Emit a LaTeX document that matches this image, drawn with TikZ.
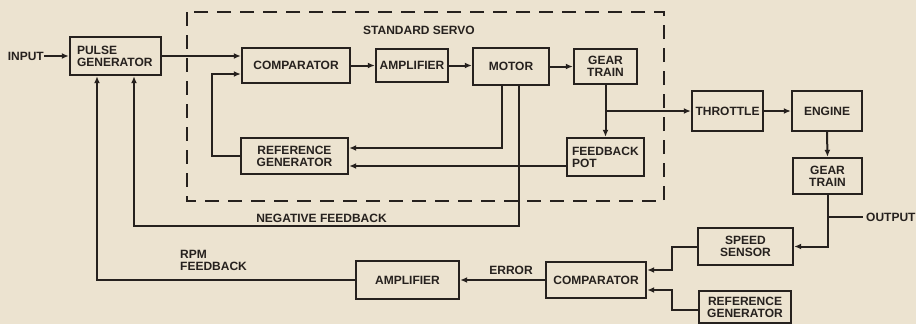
\documentclass[tikz,border=0pt]{standalone}
\usepackage{fontspec}
\setmainfont{Liberation Sans}
\usetikzlibrary{arrows.meta,calc}
\definecolor{bgc}{RGB}{236,227,208}
\definecolor{ink}{RGB}{38,33,30}
\tikzset{
  blk/.style={draw=ink, line width=2.4pt, inner sep=0pt, align=center, text=ink,
    font=\fontsize{12}{12}\selectfont\bfseries},
  lbl/.style={inner sep=0pt, text=ink, font=\fontsize{12}{12}\selectfont\bfseries},
  ln/.style={draw=ink, line width=2pt},
  arr/.style={ln, -{Latex[length=7pt,width=6pt]}},
}
\begin{document}
\begin{tikzpicture}[x=1pt,y=-1pt]
\useasboundingbox (0,0) rectangle (916,324);
\fill[bgc] (0,0) rectangle (916,324);
% dashed servo frame
\draw[draw=ink, line width=2.2pt, dash pattern=on 14pt off 9pt] (187,12) rectangle (664,201);
\node[lbl] (servo) at (419,30) {STANDARD SERVO};
% blocks
\node[blk, minimum width=91pt, minimum height=38pt, text width=77pt, align=left] (pg) at (115.5,56) {PULSE\\GENERATOR};
\node[blk, minimum width=108pt, minimum height=35pt] (comp1) at (296,65.5) {COMPARATOR};
\node[blk, minimum width=72pt, minimum height=33pt] (amp1) at (412,65.5) {AMPLIFIER};
\node[blk, minimum width=76pt, minimum height=37pt] (motor) at (511,66.5) {MOTOR};
\node[blk, minimum width=63pt, minimum height=35pt] (gt1) at (605.5,66.5) {GEAR\\TRAIN};
\node[blk, minimum width=107pt, minimum height=36pt] (rg1) at (294.5,156) {REFERENCE\\GENERATOR};
\node[blk, minimum width=77pt, minimum height=38pt, text width=67pt, align=left] (fp) at (605.5,157) {FEEDBACK\\POT};
\node[blk, minimum width=71pt, minimum height=40pt] (thr) at (727.5,111) {THROTTLE};
\node[blk, minimum width=70pt, minimum height=40pt] (eng) at (827,111) {ENGINE};
\node[blk, minimum width=69pt, minimum height=36pt] (gt2) at (827.5,176) {GEAR\\TRAIN};
\node[blk, minimum width=95pt, minimum height=37pt] (ss) at (745.5,246.5) {SPEED\\SENSOR};
\node[blk, minimum width=100pt, minimum height=36pt] (cmp2) at (596,280) {COMPARATOR};
\node[blk, minimum width=92pt, minimum height=32pt] (rg2) at (745,307) {REFERENCE\\GENERATOR};
\node[blk, minimum width=103pt, minimum height=38pt] (amp2) at (407.5,280) {AMPLIFIER};
% labels
\node[lbl, anchor=east] (inp) at (44,56) {INPUT};
\node[lbl, anchor=west] (outp) at (866,217) {OUTPUT};
\node[lbl] (negfb) at (321.5,218) {NEGATIVE FEEDBACK};
\node[lbl, anchor=north west, align=left] (rpm) at (180,250) {RPM\\FEEDBACK};
\node[lbl] (err) at (511,270) {ERROR};
% connectors
\draw[arr] (inp.east) -- (pg.west);
\draw[arr] (pg.east) -- (comp1.west |- pg.east);
\draw[arr] (rg1.west) -- ++(-28,0) |- ($(comp1.west)+(0,8.5)$);
\draw[arr] (comp1.east) -- (amp1.west);
\draw[arr] (amp1.east) -- (motor.west |- amp1.east);
\draw[arr] (motor.east) -- (gt1.west);
\draw[arr] ($(motor.south)+(-9,0)$) |- ($(rg1.east)+(0,-8)$);
\coordinate (nfc) at (134,226);
\draw[arr] ($(motor.south)+(8,0)$) |- (nfc) -- ($(pg.south)+(18.5,0)$);
\draw[arr] ($(fp.west)+(0,9)$) -- ($(rg1.east)+(0,10)$);
\draw[arr] (gt1.south) -- (fp.north);
\draw[arr] (gt1.south |- thr.west) -- (thr.west);
\draw[arr] (thr.east) -- (eng.west);
\draw[arr] (eng.south) -- (gt2.north);
\draw[arr] (gt2.south) |- (ss.east);
\coordinate (oc) at (gt2.south |- outp.west);
\draw[ln] (oc) -- ($(outp.west)+(-3,0)$);
\draw[arr] (ss.west) -- ++(-25,0) |- ($(cmp2.east)+(0,-10)$);
\draw[arr] ($(rg2.west)+(0,3)$) -- ++(-26,0) |- ($(cmp2.east)+(0,10)$);
\draw[arr] (cmp2.west) -- (amp2.east);
\draw[arr] (amp2.west) -| ($(pg.south)+(-18.5,0)$);
\end{tikzpicture}
\end{document}
